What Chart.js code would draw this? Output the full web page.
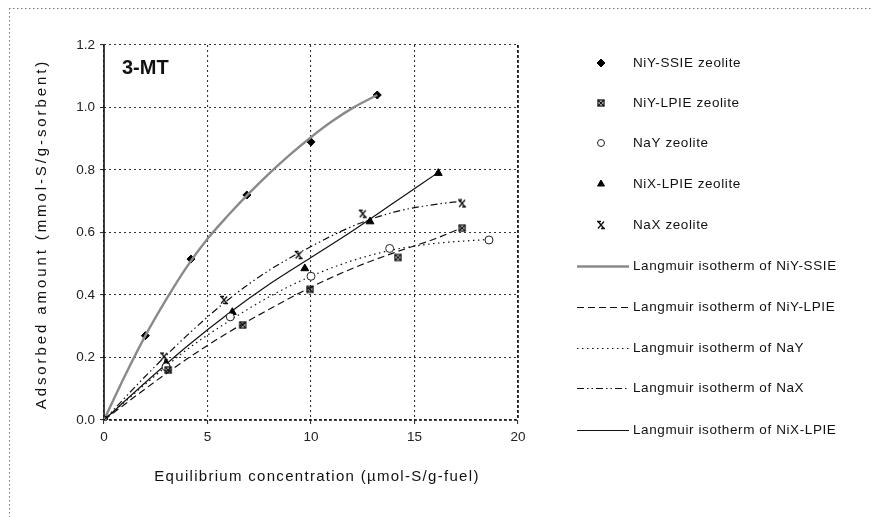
<!DOCTYPE html>
<html>
<head>
<meta charset="utf-8">
<script src="https://cdn.jsdelivr.net/npm/chart.js@4/dist/chart.umd.min.js"></script>
<style>
  html, body { margin: 0; padding: 0; background: #fff; }
  #wrap { position: relative; width: 872px; height: 517px; }
</style>
</head>
<body>
<div id="wrap"><canvas id="isotherm" width="872" height="517"></canvas></div>
<script>
// ─── Data ────────────────────────────────────────────────────────────────
const seriesNames = ['NiY-SSIE zeolite', 'NiY-LPIE zeolite', 'NaY zeolite', 'NiX-LPIE zeolite', 'NaX zeolite'];
const curveNames = [
    'Langmuir isotherm of NiY-SSIE',
    'Langmuir isotherm of NiY-LPIE',
    'Langmuir isotherm of NaY',
    'Langmuir isotherm of NaX',
    'Langmuir isotherm of NiX-LPIE'
];

const xTicks = [0, 5, 10, 15, 20];
const yTicks = [0, 0.2, 0.4, 0.6, 0.8, 1.0, 1.2];

// measured points (equilibrium conc., adsorbed amount)
const ssieX = [0, 2.0, 4.2, 6.9, 10.0, 13.2];
const ssieY = [0, 0.27, 0.515, 0.72, 0.89, 1.04];
const lpieX = [0, 3.1, 6.7, 9.95, 14.2, 17.3];
const lpieY = [0, 0.16, 0.304, 0.418, 0.52, 0.614];
const nayX = [0, 3.0, 6.1, 10.0, 13.8, 18.6];
const nayY = [0, 0.17, 0.33, 0.46, 0.549, 0.576];
const nixX = [0, 3.0, 6.2, 9.7, 12.85, 16.15];
const nixY = [0, 0.181, 0.345, 0.485, 0.635, 0.79];
const naxX = [0, 2.9, 5.8, 9.4, 12.5, 17.3];
const naxY = [0, 0.203, 0.384, 0.528, 0.66, 0.693];

// fitted isotherm curves
const ssieFitX = [0, 1, 2, 3, 4, 5, 6, 7, 8, 9, 10, 11, 12, 13.2];
const ssieFitY = [0, 0.14, 0.27, 0.385, 0.49, 0.58, 0.655, 0.725, 0.79, 0.85, 0.905, 0.955, 0.998, 1.04];
const lpieFitX = [0, 2, 4, 6, 8, 10, 12, 14, 16, 17.3];
const lpieFitY = [0, 0.1, 0.195, 0.28, 0.355, 0.425, 0.485, 0.535, 0.58, 0.615];
const nayFitX = [0, 2, 4, 6, 8, 10, 12, 14, 16, 18.6];
const nayFitY = [0, 0.115, 0.225, 0.315, 0.395, 0.46, 0.51, 0.545, 0.565, 0.578];
const naxFitX = [0, 2, 4, 6, 8, 10, 12, 14, 16, 17.3];
const naxFitY = [0, 0.14, 0.27, 0.385, 0.48, 0.555, 0.62, 0.665, 0.69, 0.70];
const nixFitX = [0, 2, 4, 6, 8, 10, 12, 14, 16.1];
const nixFitY = [0, 0.12, 0.235, 0.34, 0.435, 0.52, 0.605, 0.695, 0.79];

const pairs = (xs, ys) => xs.map((x, i) => ({ x, y: ys[i] }));

// ─── Marker glyphs ───────────────────────────────────────────────────────
function makeMarker(draw) {
    const c = document.createElement('canvas');
    c.width = 10; c.height = 10;
    const g = c.getContext('2d');
    g.strokeStyle = '#111';
    g.fillStyle = '#111';
    g.lineWidth = 1.3;
    draw(g);
    return c;
}

// square with a cross through it
const boxCross = makeMarker(g => {
    g.strokeRect(2, 2, 6, 6);
    g.beginPath();
    g.moveTo(2, 2); g.lineTo(8, 8);
    g.moveTo(8, 2); g.lineTo(2, 8);
    g.stroke();
});

// x with short bars on top and bottom
const barCross = makeMarker(g => {
    g.beginPath();
    g.moveTo(2, 1.5); g.lineTo(8, 8.5);
    g.moveTo(8, 1.5); g.lineTo(2, 8.5);
    g.moveTo(1, 1.5); g.lineTo(5, 1.5);
    g.moveTo(5, 8.5); g.lineTo(9, 8.5);
    g.stroke();
});

const markerStyles = [
    { pointStyle: 'rectRot', radius: 4.5, fill: '#000', stroke: '#000' },
    { pointStyle: boxCross, radius: 5 },
    { pointStyle: 'circle', radius: 4, fill: '#fff', stroke: '#222' },
    { pointStyle: 'triangle', radius: 4.5, fill: '#000', stroke: '#000' },
    { pointStyle: barCross, radius: 5 }
];

const curveStyles = [
    { color: '#8a8a8a', width: 2.4, dash: [] },
    { color: '#111', width: 1.2, dash: [7, 4] },
    { color: '#111', width: 1.2, dash: [1.5, 3.5] },
    { color: '#111', width: 1.2, dash: [7, 3, 1.5, 3, 1.5, 3] },
    { color: '#111', width: 1.2, dash: [] }
];

// ─── Datasets ────────────────────────────────────────────────────────────
const pointSets = [pairs(ssieX, ssieY), pairs(lpieX, lpieY), pairs(nayX, nayY), pairs(nixX, nixY), pairs(naxX, naxY)];
const curveSets = [
    pairs(ssieFitX, ssieFitY), pairs(lpieFitX, lpieFitY), pairs(nayFitX, nayFitY),
    pairs(naxFitX, naxFitY), pairs(nixFitX, nixFitY)
];

const datasets = [];
curveSets.forEach((data, i) => {
    const s = curveStyles[i];
    datasets.push({
        label: curveNames[i],
        data,
        showLine: true,
        borderColor: s.color,
        borderWidth: s.width,
        borderDash: s.dash,
        pointRadius: 0,
        cubicInterpolationMode: 'monotone',
        fill: false,
        order: i === 0 ? 1 : 3
    });
});
pointSets.forEach((data, i) => {
    const m = markerStyles[i];
    datasets.push({
        label: seriesNames[i],
        data,
        showLine: false,
        pointStyle: m.pointStyle,
        pointRadius: i === 0 ? 4 : m.radius,
        pointBackgroundColor: m.fill || '#111',
        pointBorderColor: m.stroke || '#111',
        pointBorderWidth: 1,
        order: i === 0 ? 2 : 0
    });
});

// ─── Decorations: frame, axis lines, titles, legend ──────────────────────
const decorations = {
    id: 'decorations',
    beforeDatasetsDraw(chart) {
        const { ctx, chartArea: a } = chart;
        ctx.save();
        // left axis, solid
        ctx.strokeStyle = '#111';
        ctx.lineWidth = 1.6;
        ctx.beginPath();
        ctx.moveTo(a.left, a.top);
        ctx.lineTo(a.left, a.bottom);
        ctx.stroke();
        // bottom and right edges, heavier dots
        ctx.setLineDash([3, 2]);
        ctx.lineWidth = 1.6;
        ctx.beginPath();
        ctx.moveTo(a.left, a.bottom);
        ctx.lineTo(a.right, a.bottom);
        ctx.moveTo(a.right, a.top);
        ctx.lineTo(a.right, a.bottom);
        ctx.stroke();
        ctx.restore();
    },
    afterDraw(chart) {
        const { ctx } = chart;
        ctx.save();

        // dotted outer frame
        ctx.strokeStyle = '#777';
        ctx.lineWidth = 1;
        ctx.setLineDash([1.5, 2.5]);
        ctx.beginPath();
        ctx.moveTo(9, 8.5); ctx.lineTo(872, 8.5);
        ctx.moveTo(9.5, 8); ctx.lineTo(9.5, 517);
        ctx.stroke();
        ctx.setLineDash([]);

        ctx.fillStyle = '#111';
        ctx.textBaseline = 'middle';

        // sample label inside the plot
        ctx.font = 'bold 20px Arial';
        ctx.textAlign = 'left';
        ctx.fillText('3-MT', 122, 68);

        // axis titles
        ctx.font = '15px Arial';
        ctx.letterSpacing = '1.3px';
        ctx.textAlign = 'center';
        ctx.fillText('Equilibrium concentration (\u00b5mol-S/g-fuel)', 317, 477);
        ctx.save();
        ctx.translate(42, 234);
        ctx.rotate(-Math.PI / 2);
        ctx.letterSpacing = '2.9px';
        ctx.fillText('Adsorbed amount (mmol-S/g-sorbent)', 0, 0);
        ctx.restore();

        // legend: markers
        ctx.font = '13.5px Arial';
        ctx.letterSpacing = '0.6px';
        ctx.textAlign = 'left';
        const markerRows = [63, 103, 143, 184, 225];
        seriesNames.forEach((name, i) => {
            const m = markerStyles[i];
            ctx.fillStyle = m.fill || '#111';
            ctx.strokeStyle = m.stroke || '#111';
            ctx.lineWidth = 1;
            Chart.helpers.drawPoint(ctx, {
                pointStyle: m.pointStyle,
                radius: m.radius - 0.5,
                borderWidth: 1,
                rotation: 0
            }, 601, markerRows[i]);
            ctx.fillStyle = '#111';
            ctx.fillText(name, 633, markerRows[i]);
        });

        // legend: fitted curves
        const lineRows = [266, 307, 348, 388, 430];
        curveNames.forEach((name, i) => {
            const s = curveStyles[i];
            const ly = lineRows[i] + 0.5;
            ctx.strokeStyle = s.color;
            ctx.lineWidth = s.width;
            ctx.setLineDash(s.dash);
            ctx.beginPath();
            ctx.moveTo(577, ly);
            ctx.lineTo(629, ly);
            ctx.stroke();
            ctx.setLineDash([]);
            ctx.fillStyle = '#111';
            ctx.fillText(name, 633, lineRows[i]);
        });

        ctx.restore();
    }
};

// ─── Chart ───────────────────────────────────────────────────────────────
const gridStyle = { color: '#333', lineWidth: 1.1, tickLength: 4 };
const tickFont = { family: 'Arial', size: 13.5 };

new Chart(document.getElementById('isotherm'), {
    type: 'scatter',
    data: { datasets },
    options: {
        responsive: false,
        animation: false,
        events: [],
        layout: { padding: { left: 0, top: 45, right: 354, bottom: 0 } },
        plugins: {
            legend: { display: false },
            tooltip: { enabled: false }
        },
        scales: {
            x: {
                type: 'linear',
                min: 0,
                max: 20,
                afterBuildTicks: s => { s.ticks = xTicks.map(v => ({ value: v })); },
                afterFit: s => { s.height = 97; },
                grid: gridStyle,
                border: { display: false, dash: [2, 3] },
                ticks: { color: '#222', font: tickFont, padding: 5, maxRotation: 0 }
            },
            y: {
                type: 'linear',
                min: 0,
                max: 1.2,
                afterBuildTicks: s => { s.ticks = yTicks.map(v => ({ value: v })); },
                afterFit: s => { s.width = 104; },
                grid: gridStyle,
                border: { display: false, dash: [2, 3] },
                ticks: {
                    color: '#222',
                    font: tickFont,
                    padding: 5,
                    callback: v => v.toFixed(1)
                }
            }
        }
    },
    plugins: [decorations]
});
</script>
</body>
</html>
